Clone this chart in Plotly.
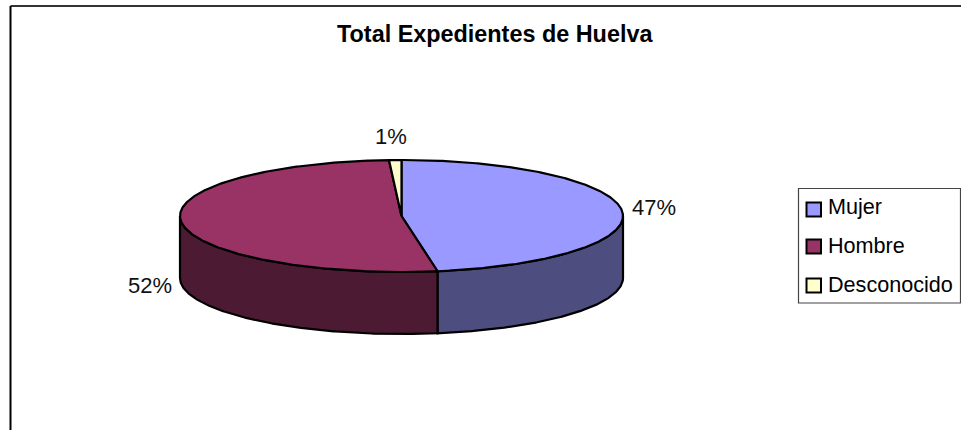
"""
Total Expedientes de Huelva - tarta 3D dibujada con Scatter
(plotly no tiene pie 3D; se proyecta una elipse con grosor)
"""

import numpy as np
import plotly.graph_objects as go

# datos
categorias = ['Mujer', 'Hombre', 'Desconocido']
valores = [47.4, 51.7, 0.9]
etiquetas = ['47%', '52%', '1%']
colores_top = ['#9999FF', '#993366', '#FFFFCC']
colores_lado = ['#4D4D80', '#4D1A33', '#808066']

W, H = 961, 430
CX, CY, RX, RY, GROSOR = 401.5, 216, 221.5, 56, 62
FONT = 'Liberation Sans'


def elipse(a0, a1, dy=0):
    # angulos en grados, desde las 12 en sentido horario
    t = np.radians(np.linspace(a0, a1, max(int(abs(a1 - a0)) * 2, 2)))
    return CX + RX * np.sin(t), CY - RY * np.cos(t) + dy


fig = go.Figure()

# porciones: angulos a partir de los valores
total = sum(valores)
cortes = np.cumsum([0] + valores) / total * 360

# lados (solo la mitad delantera, 90-270 grados)
for i in range(len(valores)):
    a0, a1 = max(cortes[i], 90), min(cortes[i + 1], 270)
    if a1 <= a0:
        continue
    x0, y0 = elipse(a0, a1)
    x1, y1 = elipse(a1, a0, GROSOR)
    fig.add_trace(go.Scatter(
        x=list(x0) + list(x1) + [x0[0]],
        y=list(y0) + list(y1) + [y0[0]],
        mode='lines', fill='toself', fillcolor=colores_lado[i],
        line=dict(color='black', width=2.2),
        hoverinfo='skip', showlegend=False,
    ))

# tapa superior
for i in range(len(valores)):
    x0, y0 = elipse(cortes[i], cortes[i + 1])
    fig.add_trace(go.Scatter(
        x=[CX] + list(x0) + [CX],
        y=[CY] + list(y0) + [CY],
        mode='lines', fill='toself', fillcolor=colores_top[i],
        line=dict(color='black', width=2.2),
        hoverinfo='skip', showlegend=False,
    ))

shapes = [
    # marco del grafico
    dict(type='line', xref='x', yref='y', x0=10.5, x1=W, y0=6, y1=6,
         line=dict(color='#333333', width=2)),
    dict(type='line', xref='x', yref='y', x0=10.5, x1=10.5, y0=6, y1=H,
         line=dict(color='black', width=2)),
    # caja de la leyenda
    dict(type='rect', xref='x', yref='y', x0=798.5, x1=960.5, y0=188.5, y1=303,
         line=dict(color='#444444', width=1.2), fillcolor='white'),
]

annotations = [
    dict(x=494.5, y=34, text='<b>Total Expedientes de Huelva</b>', showarrow=False,
         font=dict(size=23.4, family=FONT, color='black')),
]

# etiquetas de porcentaje
pos_etiquetas = [(654, 207), (150, 285), (391, 136)]
for txt, (px, py) in zip(etiquetas, pos_etiquetas):
    annotations.append(dict(x=px, y=py, text=txt, showarrow=False,
                            font=dict(size=22, family=FONT, color='#111111')))

# leyenda
pos_leyenda = [209.5, 246.5, 285.5]
pos_textos = [206, 245, 284]
for cat, col, py, ty in zip(categorias, colores_top, pos_leyenda, pos_textos):
    shapes.append(dict(type='rect', xref='x', yref='y', x0=806.5, x1=821,
                       y0=py - 7, y1=py + 7, fillcolor=col,
                       line=dict(color='black', width=2)))
    annotations.append(dict(x=826, y=ty, text=cat, showarrow=False, xanchor='left',
                            font=dict(size=21.6, family=FONT, color='black')))

fig.update_layout(
    width=W, height=H,
    margin=dict(l=0, r=0, t=0, b=0),
    paper_bgcolor='white', plot_bgcolor='white',
    xaxis=dict(range=[0, W], visible=False, fixedrange=True),
    yaxis=dict(range=[H, 0], visible=False, fixedrange=True),
    shapes=shapes, annotations=annotations,
    showlegend=False,
)

fig.write_html("out.html", config=dict(displayModeBar=False),
               post_script="document.body.style.margin='0';document.body.style.overflow='hidden';")
